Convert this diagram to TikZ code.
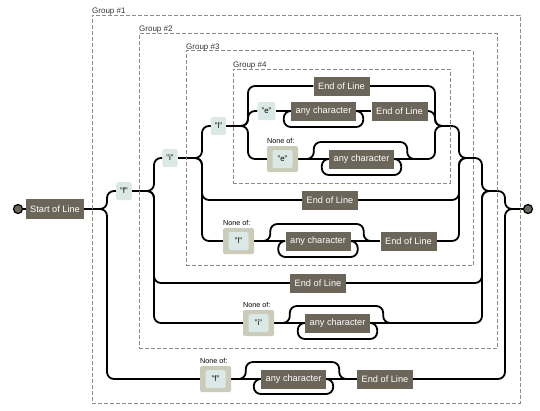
\documentclass[tikz,border=0pt]{standalone}
\usepackage{fontspec}
\setmainfont{Liberation Sans}
\usetikzlibrary{backgrounds}
\definecolor{boxdark}{HTML}{6B6659}
\definecolor{litfill}{HTML}{DAE9E5}
\definecolor{setfill}{HTML}{CBCBBA}
\definecolor{grpline}{HTML}{908C83}
\tikzset{
  dark/.style={fill=boxdark, text=white, font=\fontsize{9.2}{10}\selectfont, minimum height=19pt, inner sep=0pt},
  eolbox/.style={dark, minimum width=56pt},
  anybox/.style={dark, minimum width=65pt},
  litbox/.style={fill=litfill, rounded corners=2pt, font=\fontsize{8}{9}\selectfont, minimum height=18pt, inner xsep=4pt, inner ysep=0pt},
  setbox/.style={fill=setfill, rounded corners=2pt, minimum width=31pt, minimum height=26pt, inner sep=0pt},
  setlit/.style={fill=litfill, rounded corners=1.5pt, minimum width=20pt, minimum height=18pt, inner sep=0pt, font=\fontsize{8}{9}\selectfont},
  setlabel/.style={font=\fontsize{7.2}{8}\selectfont, anchor=base west, inner sep=0pt},
  grpbox/.style={draw=grpline, dash pattern=on 4pt off 2pt, line width=1pt, inner sep=0pt},
  grplabel/.style={font=\fontsize{8}{9}\selectfont, text=black!80, anchor=base west, inner sep=0pt},
  wire/.style={line width=1.8pt, rounded corners=7pt},
  term/.style={circle, fill=boxdark, draw=black, line width=1.2pt, minimum size=9pt, inner sep=0pt},
}
\begin{document}
\begin{tikzpicture}[x=1pt,y=-1pt]
\useasboundingbox (0,0) rectangle (540,410);
% groups
\node[grpbox, minimum width=428pt, minimum height=388pt] (g1) at (306,209) {};
\node[grpbox, minimum width=358pt, minimum height=315pt] (g2) at (318,191) {};
\node[grpbox, minimum width=287pt, minimum height=215pt] (g3) at (329.5,158) {};
\node[grpbox, minimum width=217pt, minimum height=114pt] (g4) at (341.5,126) {};
\node[grplabel] (g1l) at (92,13) {Group \#1};
\node[grplabel] (g2l) at (139,31) {Group \#2};
\node[grplabel] (g3l) at (186,49) {Group \#3};
\node[grplabel] (g4l) at (233,67) {Group \#4};
% terminals
\node[term] (st) at (18,209) {};
\node[term] (en) at (528,209) {};
\node[dark, minimum width=58pt, minimum height=20pt] (sol) at (55,209) {Start of Line};
% literals
\node[litbox] (f1) at (124,191) {"f"};
\node[litbox] (i1) at (170,158) {"i"};
\node[litbox] (l1) at (218.5,126) {"l"};
\node[litbox] (e1) at (266.5,111) {"e"};
% none-of sets
\node[setbox] (nf) at (215.5,379) {};
\node[setlit] (nfi) at (nf) {"f"};
\node[setlabel] (nfl) at (200,363.5) {None of:};
\node[setbox] (ni) at (258.5,323) {};
\node[setlit] (nii) at (ni) {"i"};
\node[setlabel] (nil) at (243,307.5) {None of:};
\node[setbox] (nl) at (238.5,241) {};
\node[setlit] (nli) at (nl) {"l"};
\node[setlabel] (nll) at (223,225.5) {None of:};
\node[setbox] (ne) at (282.5,159) {};
\node[setlit] (nei) at (ne) {"e"};
\node[setlabel] (nel) at (267,143.5) {None of:};
% dark boxes
\node[eolbox] (eol4a) at (341.5,86) {End of Line};
\node[anybox] (any4b) at (323.5,111) {any character};
\node[eolbox] (eol4b) at (399.5,111) {End of Line};
\node[anybox] (any4c) at (361.5,159) {any character};
\node[eolbox] (eol3b) at (330,200) {End of Line};
\node[anybox] (any3c) at (318,241) {any character};
\node[eolbox] (eol3c) at (408.5,241) {End of Line};
\node[eolbox] (eol2b) at (318,283) {End of Line};
\node[anybox] (any2c) at (337.5,323) {any character};
\node[anybox] (any1b) at (293.5,379) {any character};
\node[eolbox] (eol1b) at (385,379) {End of Line};
% fork points
\coordinate (a1L) at (100,209); \coordinate (a1R) at (512,209);
\coordinate (a2L) at (147,191); \coordinate (a2R) at (489,191);
\coordinate (a3L) at (195,158); \coordinate (a3R) at (466,158);
\coordinate (a4L) at (241,126); \coordinate (a4R) at (442,126);
\coordinate (s1L) at ([xshift=-22pt]any1b.west); \coordinate (s1R) at ([xshift=20pt]any1b.east);
\coordinate (s2L) at ([xshift=-22pt]any2c.west); \coordinate (s2R) at ([xshift=20pt]any2c.east);
\coordinate (s3L) at ([xshift=-22pt]any3c.west); \coordinate (s3R) at ([xshift=20pt]any3c.east);
\coordinate (s4L) at ([xshift=-22pt]any4c.west); \coordinate (s4R) at ([xshift=20pt]any4c.east);
\begin{pgfonlayer}{background}
\fill[white] (0,0) rectangle (540,410);
% main line
\draw[wire] (st.east) -- (sol.west);
\draw[wire] (sol.east) -- (a1L);
\draw[wire] (a1R) -- (en.west);
% group 1 alternation
\draw[wire] (a1L) -- ++(7,0) |- (f1.west);
\draw[wire] (a1L) -- ++(7,0) |- (nf.west);
\draw[wire] (g2.east) -| ([xshift=-7pt]a1R) -- (a1R);
\draw[wire] (eol1b.east) -| ([xshift=-7pt]a1R) -- (a1R);
\draw[wire] (f1.east) -- (a2L);
\draw[wire] (a2R) -- (g2.east);
% group 1 bottom option
\draw[wire] (nf.east) -- (any1b.west);
\draw[wire] (any1b.east) -- (eol1b.west);
\draw[wire] (s1L) -- ++(7,0) -- ++(0,-17) -| ([xshift=-7pt]s1R) -- (s1R);
\draw[wire] (any1b.west) -- ++(-7,0) -- ++(0,15) -| ([xshift=7pt]any1b.east) -- (any1b.east);
% group 2 alternation
\draw[wire] (a2L) -- ++(7,0) |- (i1.west);
\draw[wire] (a2L) -- ++(7,0) |- (eol2b.west);
\draw[wire] (a2L) -- ++(7,0) |- (ni.west);
\draw[wire] (g3.east) -| ([xshift=-7pt]a2R) -- (a2R);
\draw[wire] (eol2b.east) -| ([xshift=-7pt]a2R) -- (a2R);
\draw[wire] (s2R) -| ([xshift=-7pt]a2R) -- (a2R);
\draw[wire] (i1.east) -- (a3L);
\draw[wire] (a3R) -- (g3.east);
% group 2 bottom option
\draw[wire] (ni.east) -- (any2c.west);
\draw[wire] (any2c.east) -- (s2R);
\draw[wire] (s2L) -- ++(7,0) -- ++(0,-17) -| ([xshift=-7pt]s2R) -- (s2R);
\draw[wire] (any2c.west) -- ++(-7,0) -- ++(0,16) -| ([xshift=7pt]any2c.east) -- (any2c.east);
% group 3 alternation
\draw[wire] (a3L) -- ++(7,0) |- (l1.west);
\draw[wire] (a3L) -- ++(7,0) |- (eol3b.west);
\draw[wire] (a3L) -- ++(7,0) |- (nl.west);
\draw[wire] (g4.east) -| ([xshift=-7pt]a3R) -- (a3R);
\draw[wire] (eol3b.east) -| ([xshift=-7pt]a3R) -- (a3R);
\draw[wire] (eol3c.east) -| ([xshift=-7pt]a3R) -- (a3R);
\draw[wire] (l1.east) -- (a4L);
\draw[wire] (a4R) -- (g4.east);
% group 3 bottom option
\draw[wire] (nl.east) -- (any3c.west);
\draw[wire] (any3c.east) -- (eol3c.west);
\draw[wire] (s3L) -- ++(7,0) -- ++(0,-17) -| ([xshift=-7pt]s3R) -- (s3R);
\draw[wire] (any3c.west) -- ++(-7,0) -- ++(0,16) -| ([xshift=7pt]any3c.east) -- (any3c.east);
% group 4 alternation
\draw[wire] (a4L) -- ++(7,0) |- (eol4a.west);
\draw[wire] (a4L) -- ++(7,0) |- (e1.west);
\draw[wire] (a4L) -- ++(7,0) |- (ne.west);
\draw[wire] (eol4a.east) -| ([xshift=-7pt]a4R) -- (a4R);
\draw[wire] (eol4b.east) -| ([xshift=-7pt]a4R) -- (a4R);
\draw[wire] (s4R) -| ([xshift=-7pt]a4R) -- (a4R);
% group 4 middle option
\draw[wire] (e1.east) -- (any4b.west);
\draw[wire] (any4b.east) -- (eol4b.west);
\draw[wire] (any4b.west) -- ++(-7,0) -- ++(0,16) -| ([xshift=7pt]any4b.east) -- (any4b.east);
% group 4 bottom option
\draw[wire] (ne.east) -- (any4c.west);
\draw[wire] (any4c.east) -- (s4R);
\draw[wire] (s4L) -- ++(7,0) -- ++(0,-17) -| ([xshift=-7pt]s4R) -- (s4R);
\draw[wire] (any4c.west) -- ++(-7,0) -- ++(0,16) -| ([xshift=7pt]any4c.east) -- (any4c.east);
\end{pgfonlayer}
\end{tikzpicture}
\end{document}
